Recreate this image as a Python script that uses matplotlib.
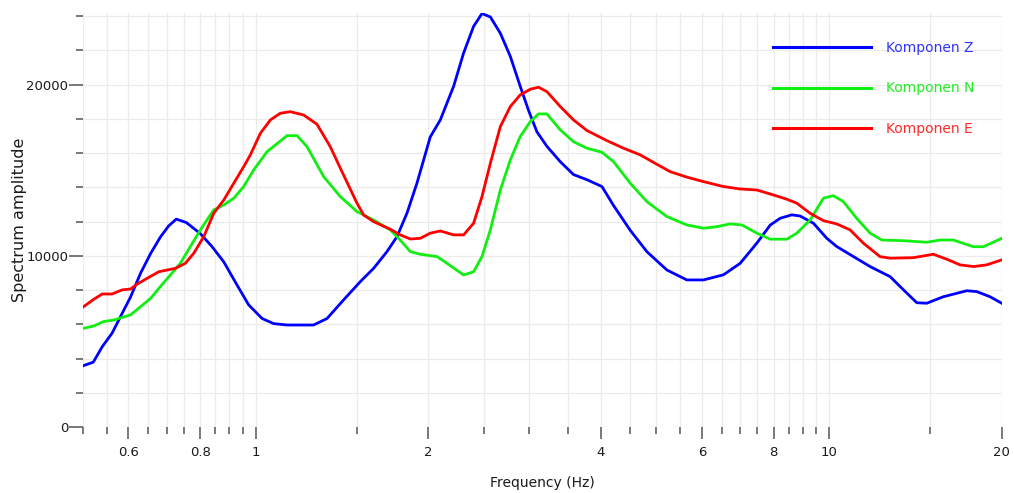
import matplotlib
matplotlib.use("Agg")
import matplotlib.pyplot as plt
from matplotlib.ticker import FixedLocator, MultipleLocator, NullFormatter

# --- data (frequency in Hz, spectrum amplitude) ---
freq_z = [0.501, 0.521, 0.540, 0.562, 0.585, 0.605, 0.630, 0.656, 0.682, 0.705,
          0.727, 0.757, 0.801, 0.839, 0.880, 0.928, 0.972, 1.026, 1.075, 1.134,
          1.262, 1.332, 1.423, 1.522, 1.606, 1.694, 1.764, 1.836, 1.911, 2.016,
          2.099, 2.214, 2.305, 2.399, 2.481, 2.566, 2.671, 2.780, 2.893, 2.991,
          3.093, 3.220, 3.398, 3.583, 3.782, 4.017, 4.207, 4.499, 4.811, 5.213,
          5.649, 6.038, 6.543, 6.997, 7.482, 7.893, 8.216, 8.610, 8.903, 9.389,
          9.908, 10.31, 11.03, 11.79, 12.78, 13.48, 14.22, 14.80, 15.82, 17.38,
          18.09, 19.08, 20.0]
amp_z = [3600, 3800, 4700, 5500, 6650, 7600, 9000, 10150, 11100, 11750,
         12150, 11950, 11300, 10550, 9650, 8300, 7150, 6350, 6050, 5970,
         5970, 6350, 7430, 8500, 9280, 10250, 11130, 12500, 14250, 16950,
         17940, 19900, 21850, 23400, 24150, 23950, 23000, 21650, 19900, 18500,
         17250, 16400, 15500, 14750, 14450, 14050, 12950, 11500, 10250, 9180,
         8600, 8600, 8900, 9570, 10750, 11800, 12200, 12400, 12330, 11910,
         11030, 10550, 9960, 9380, 8790, 8020, 7270, 7240, 7620, 7970,
         7920, 7620, 7240]

freq_n = [0.501, 0.522, 0.543, 0.566, 0.605, 0.630, 0.656, 0.682, 0.710, 0.739,
          0.769, 0.801, 0.845, 0.880, 0.916, 0.953, 0.992, 1.047, 1.134, 1.181,
          1.229, 1.314, 1.405, 1.502, 1.606, 1.717, 1.787, 1.861, 1.937, 2.072,
          2.156, 2.305, 2.399, 2.481, 2.566, 2.671, 2.780, 2.893, 3.012, 3.113,
          3.220, 3.398, 3.583, 3.782, 4.017, 4.207, 4.499, 4.811, 5.213, 5.649,
          6.038, 6.372, 6.721, 7.044, 7.482, 7.893, 8.440, 8.784, 9.267, 9.775,
          10.17, 10.59, 11.17, 11.79, 12.36, 13.48, 14.80, 15.62, 16.47, 17.85,
          18.58, 20.0]
amp_n = [5780, 5910, 6170, 6260, 6560, 7040, 7530, 8210, 8890, 9570,
         10540, 11520, 12690, 12980, 13370, 14050, 15020, 16090, 17020, 17020,
         16380, 14630, 13460, 12590, 12100, 11520, 10930, 10250, 10100, 9960,
         9570, 8890, 9080, 9960, 11520, 13850, 15600, 16970, 17840, 18290,
         18290, 17360, 16670, 16290, 16050, 15510, 14250, 13170, 12300, 11810,
         11620, 11710, 11870, 11810, 11330, 10980, 10980, 11330, 12100, 13370,
         13520, 13170, 12200, 11330, 10930, 10890, 10800, 10930, 10930, 10540,
         10540, 11030]

freq_e = [0.501, 0.522, 0.540, 0.562, 0.585, 0.605, 0.621, 0.647, 0.678, 0.725,
          0.754, 0.780, 0.812, 0.845, 0.880, 0.916, 0.953, 0.979, 1.019, 1.061,
          1.104, 1.149, 1.212, 1.279, 1.349, 1.423, 1.502, 1.543, 1.606, 1.717,
          1.787, 1.861, 1.937, 2.016, 2.099, 2.214, 2.305, 2.399, 2.481, 2.566,
          2.671, 2.780, 2.893, 3.012, 3.113, 3.220, 3.398, 3.583, 3.782, 4.098,
          4.379, 4.684, 5.008, 5.283, 5.649, 6.038, 6.543, 6.997, 7.482, 7.995,
          8.440, 8.784, 9.267, 9.775, 10.31, 10.88, 11.48, 12.27, 12.78, 14.03,
          15.20, 16.04, 16.92, 17.85, 18.83, 20.0]
amp_e = [7040, 7470, 7780, 7780, 8020, 8070, 8350, 8700, 9080, 9280,
         9570, 10160, 11130, 12490, 13270, 14250, 15210, 15900, 17160, 17940,
         18330, 18420, 18230, 17690, 16380, 14730, 13080, 12390, 12000, 11560,
         11230, 10990, 11030, 11330, 11460, 11230, 11230, 11910, 13460, 15410,
         17550, 18720, 19400, 19730, 19850, 19590, 18720, 17940, 17320, 16730,
         16290, 15900, 15350, 14920, 14600, 14340, 14050, 13910, 13850, 13560,
         13310, 13080, 12490, 12060, 11870, 11520, 10740, 9960, 9870, 9900,
         10100, 9810, 9480, 9380, 9480, 9770]

series_labels = ["Komponen Z", "Komponen N", "Komponen E"]
line_colors = ["#0000ff", "#11ee11", "#ff0000"]
text_colors = ["#3333ff", "#22ee22", "#ff2a2a"]

x_major = [0.6, 0.8, 1, 2, 4, 6, 8, 10, 20]
x_major_labels = ["0.6", "0.8", "1", "2", "4", "6", "8", "10", "20"]
x_minor = [0.5, 0.55, 0.65, 0.7, 0.75, 0.85, 0.9, 0.95, 1.5, 2.5, 3, 3.5,
           4.5, 5, 5.5, 6.5, 7, 7.5, 8.5, 9, 9.5, 15]
y_major = [0, 10000, 20000]
y_major_labels = ["0", "10000", "20000"]

fig = plt.figure(figsize=(10.14, 4.93), dpi=100)
ax = fig.add_axes([0.0819, 0.1333, 0.906, 0.841])

for f, a, c, lab in zip([freq_z, freq_n, freq_e], [amp_z, amp_n, amp_e],
                        line_colors, series_labels):
    ax.plot(f, a, color=c, lw=2.0, label=lab, solid_joinstyle="round")

ax.set_xscale("log")
ax.set_xlim(0.5, 20)
ax.set_ylim(0, 24200)

ax.xaxis.set_major_locator(FixedLocator(x_major))
ax.set_xticklabels(x_major_labels)
ax.xaxis.set_minor_locator(FixedLocator(x_minor))
ax.xaxis.set_minor_formatter(NullFormatter())
ax.yaxis.set_major_locator(FixedLocator(y_major))
ax.set_yticklabels(y_major_labels)
ax.yaxis.set_minor_locator(MultipleLocator(2000))

for s in ax.spines.values():
    s.set_visible(False)

ax.grid(True, which="both", color="#ebebeb", lw=0.9)
ax.set_axisbelow(True)

ax.tick_params(axis="both", which="both", colors="#555555", labelcolor="#1a1a1a",
               labelsize=9.5)
ax.tick_params(axis="x", which="major", length=8.5, width=1.1, pad=5)
ax.tick_params(axis="x", which="minor", length=5, width=1.1)
ax.tick_params(axis="y", which="major", length=10, width=1.1, pad=0.5)
ax.tick_params(axis="y", which="minor", length=5, width=1.1)

ax.set_xlabel("Frequency (Hz)", fontsize=10, color="#1a1a1a", labelpad=12)
ax.set_ylabel("Spectrum amplitude", fontsize=11.5, color="#1a1a1a", labelpad=-0.5)

leg = ax.legend(loc="upper left", bbox_to_anchor=(0.7514, 0.931), frameon=False,
                fontsize=10, handlelength=7.05, handletextpad=1.08,
                labelspacing=1.88, borderpad=0, borderaxespad=0,
                labelcolor=text_colors)
for h in leg.get_lines():
    h.set_linewidth(2.2)

fig.savefig("out.png", dpi=100)
